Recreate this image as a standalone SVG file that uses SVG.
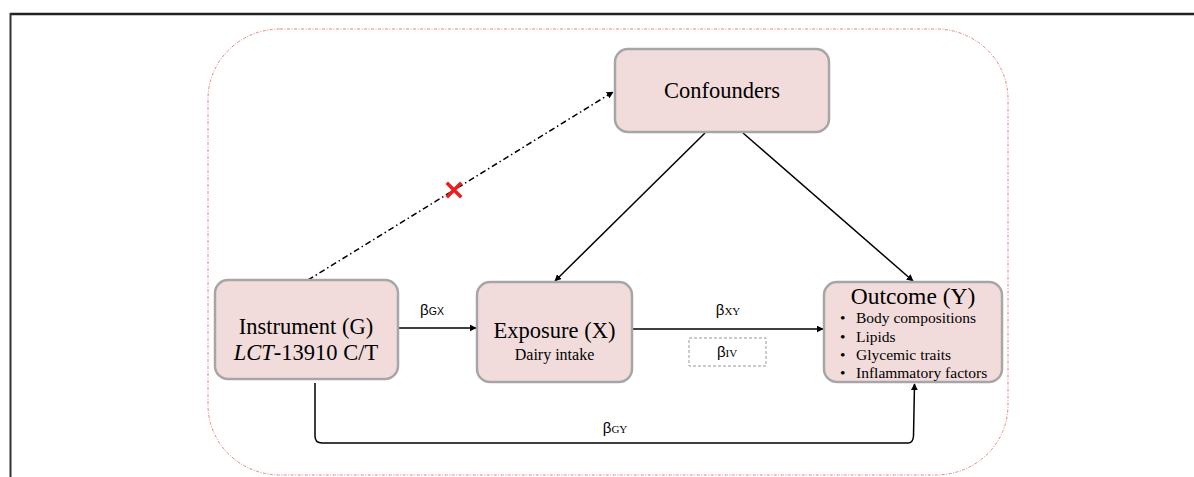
<svg xmlns="http://www.w3.org/2000/svg" width="1194" height="477" viewBox="0 0 1194 477">
<style>
.node{fill:#F2DCDB;stroke:#A6A6A6;stroke-width:2.5}
.t{font-family:"Liberation Serif",serif;fill:#000}
.s{font-family:"Liberation Sans",sans-serif;fill:#000}
.c{fill:none;stroke:#000;stroke-width:1.5}
</style>
<defs>
<marker id="ah" viewBox="0 0 10 10" refX="9" refY="5" markerWidth="7" markerHeight="7" markerUnits="userSpaceOnUse" orient="auto">
<path d="M0,0 L10,5 L0,10 z" fill="#000"/>
</marker>
</defs>
<rect width="1194" height="477" fill="#fff"/>
<g id="frame">
<line x1="10" y1="14" x2="1194" y2="14" stroke="#222" stroke-width="2.5"/>
<line x1="10.5" y1="13" x2="10.5" y2="477" stroke="#333" stroke-width="2"/>
<rect x="208" y="29" width="800" height="446" rx="72" ry="70" fill="none" stroke="#E8837F" stroke-width="1" stroke-dasharray="3,1.5,1,1.5"/>
</g>
<g id="connectors">
<line class="c" x1="308" y1="280" x2="613" y2="92" stroke-dasharray="6,3,1.5,3" marker-end="url(#ah)"/>
<line class="c" x1="705" y1="133" x2="555" y2="281" marker-end="url(#ah)"/>
<line class="c" x1="743" y1="133" x2="913" y2="281" marker-end="url(#ah)"/>
<line class="c" x1="398" y1="328" x2="476" y2="328" marker-end="url(#ah)"/>
<line class="c" x1="632" y1="329" x2="823" y2="329" marker-end="url(#ah)"/>
<path class="c" d="M315,383 L315,436 Q315,443 322,443 L908,443 Q913,443 913.5,436 L914.5,384" marker-end="url(#ah)"/>
<g id="redx" transform="translate(454,190)">
<path d="M-6,-6 L6,6 M6,-6 L-6,6" stroke="#EE1C1C" stroke-width="3.5" stroke-linecap="square"/>
</g>
<text class="s" x="432" y="315" font-size="15" text-anchor="middle">β<tspan font-size="10.5">GX</tspan></text>
<text class="s" x="728" y="315" font-size="15" text-anchor="middle">β<tspan class="t" font-size="11">XY</tspan></text>
<rect x="689" y="338" width="77" height="28" fill="none" stroke="#999" stroke-width="1" stroke-dasharray="3,2"/>
<text class="s" x="727" y="357" font-size="15" text-anchor="middle">β<tspan class="t" font-size="11">IV</tspan></text>
<text class="s" x="615" y="433" font-size="15" text-anchor="middle">β<tspan class="t" font-size="11">GY</tspan></text>
</g>
<g id="confounders">
<rect class="node" x="615" y="49" width="214" height="83" rx="13"/>
<text class="t" x="722" y="98" font-size="22.5" text-anchor="middle">Confounders</text>
</g>
<g id="instrument">
<rect class="node" x="215" y="280" width="183" height="99" rx="13"/>
<text class="t" x="306" y="334" font-size="22.5" text-anchor="middle">Instrument (G)</text>
<text class="t" x="306" y="360" font-size="22.5" text-anchor="middle"><tspan font-style="italic">LCT</tspan>-13910 C/T</text>
</g>
<g id="exposure">
<rect class="node" x="477" y="282" width="155" height="100" rx="13"/>
<text class="t" x="554.5" y="338" font-size="22.5" text-anchor="middle">Exposure (X)</text>
<text class="t" x="554.5" y="360" font-size="16" text-anchor="middle">Dairy intake</text>
</g>
<g id="outcome">
<rect class="node" x="824" y="282" width="178" height="100" rx="13"/>
<text class="t" x="913" y="304" font-size="23.5" text-anchor="middle">Outcome (Y)</text>
<g class="t" font-size="15.5">
<text x="840" y="323">•</text><text x="856" y="323">Body compositions</text>
<text x="840" y="342">•</text><text x="856" y="342">Lipids</text>
<text x="840" y="360">•</text><text x="856" y="360">Glycemic traits</text>
<text x="840" y="378">•</text><text x="856" y="378">Inflammatory factors</text>
</g>
</g>
</svg>
